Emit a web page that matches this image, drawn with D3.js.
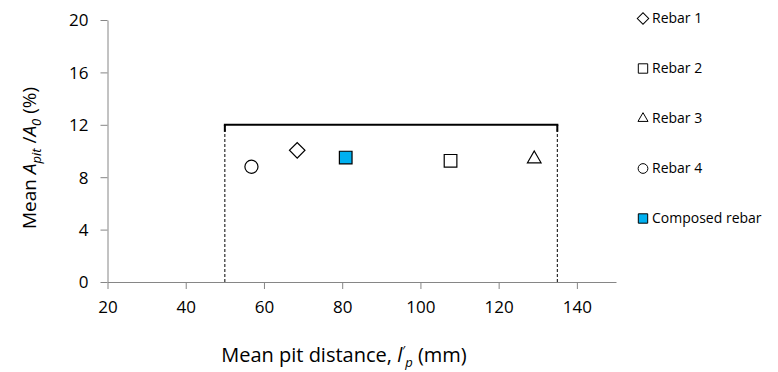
<!DOCTYPE html>
<html>
<head>
<meta charset="utf-8">
<script src="https://cdn.jsdelivr.net/npm/d3@7"></script>
<style>
  body { margin: 0; background: #fff; }
  text { font-family: "Open Sans", "Noto Sans", sans-serif; fill: #000; }
</style>
</head>
<body>
<svg id="chart" width="778" height="372"></svg>
<script>
// data
var seriesNames = ["Rebar 1", "Rebar 2", "Rebar 3", "Rebar 4", "Composed rebar"];
var seriesX = [68.5, 107.7, 129.1, 56.8, 80.9];
var seriesY = [10.05, 9.25, 9.4, 8.8, 9.5];
var xTicks = [20, 40, 60, 80, 100, 120, 140];
var yTicks = [0, 4, 8, 12, 16, 20];
var rangeX = [50, 135];
var rangeTop = 12;

var svg = d3.select("#chart");

var x = d3.scaleLinear().domain([20, 150]).range([107.5, 616]);
var y = d3.scaleLinear().domain([0, 20]).range([282, 20]);

var axisColor = "#868686";

var xAxis = svg.append("g")
  .attr("transform", "translate(0,282)")
  .call(d3.axisBottom(x).tickValues(xTicks).tickSize(7).tickPadding(12).tickSizeOuter(0));
var yAxis = svg.append("g")
  .attr("transform", "translate(107.5,0)")
  .call(d3.axisLeft(y).tickValues(yTicks).tickSize(7).tickPadding(12).tickSizeOuter(0));

[xAxis, yAxis].forEach(function(a) {
  a.selectAll("path, line").attr("stroke", axisColor);
  a.selectAll("text").style("font-size", "17px").attr("fill", "#000");
});
yAxis.selectAll("text").attr("dy", "0.35em");

// range bracket
rangeX.forEach(function(v) {
  svg.append("line")
    .attr("x1", x(v)).attr("x2", x(v))
    .attr("y1", y(0)).attr("y2", y(rangeTop))
    .attr("stroke", "#000").attr("stroke-width", 1)
    .attr("stroke-dasharray", "3,2");
  svg.append("line")
    .attr("x1", x(v)).attr("x2", x(v))
    .attr("y1", y(rangeTop)).attr("y2", y(rangeTop) + 7)
    .attr("stroke", "#000").attr("stroke-width", 2);
});
svg.append("line")
  .attr("x1", x(rangeX[0]) - 1).attr("x2", x(rangeX[1]) + 1)
  .attr("y1", y(rangeTop)).attr("y2", y(rangeTop))
  .attr("stroke", "#000").attr("stroke-width", 2);

// marker shapes (diamond = square turned 45 degrees)
var shapes = [d3.symbolSquare, d3.symbolSquare, d3.symbolTriangle, d3.symbolCircle, d3.symbolSquare];
var rotations = [45, 0, 0, 0, 0];
var sizes = [120, 160, 80, 135, 160];
var fills = ["#fff", "#fff", "#fff", "#fff", "#00b0f0"];
function marker(i, scale) {
  return d3.symbol().type(shapes[i]).size(sizes[i] * scale)();
}

svg.selectAll(".pt")
  .data(seriesNames)
  .enter().append("path")
  .attr("class", "pt")
  .attr("transform", function(d, i) {
    return "translate(" + x(seriesX[i]) + "," + y(seriesY[i]) + ") rotate(" + rotations[i] + ")";
  })
  .attr("d", function(d, i) { return marker(i, 1); })
  .attr("fill", function(d, i) { return fills[i]; })
  .attr("stroke", "#000")
  .attr("stroke-width", 1.2);

// legend
var legend = svg.selectAll(".legend")
  .data(seriesNames)
  .enter().append("g")
  .attr("class", "legend")
  .attr("transform", function(d, i) { return "translate(643," + (18.5 + i * 50) + ")"; });

legend.append("path")
  .attr("transform", function(d, i) { return "rotate(" + rotations[i] + ")"; })
  .attr("d", function(d, i) { return marker(i, 0.55); })
  .attr("fill", function(d, i) { return fills[i]; })
  .attr("stroke", "#000")
  .attr("stroke-width", 1);

legend.append("text")
  .attr("x", 9)
  .attr("dy", "0.35em")
  .style("font-size", "14px")
  .text(function(d) { return d; });

// axis titles
var yt = svg.append("text")
  .attr("transform", "translate(36,158) rotate(-90)")
  .attr("text-anchor", "middle")
  .style("font-size", "19px");
yt.append("tspan").text("Mean ");
yt.append("tspan").style("font-style", "italic").text("A");
yt.append("tspan").style("font-style", "italic").style("font-size", "13px").attr("dy", 5).text("pit");
yt.append("tspan").attr("dy", -5).text(" /");
yt.append("tspan").style("font-style", "italic").text("A");
yt.append("tspan").style("font-style", "italic").style("font-size", "13px").attr("dy", 5).text("0");
yt.append("tspan").attr("dy", -5).text(" (%)");

var xt = svg.append("text")
  .attr("x", 344).attr("y", 362)
  .attr("text-anchor", "middle")
  .style("font-size", "20px");
xt.append("tspan").text("Mean pit distance, ");
xt.append("tspan").style("font-style", "italic").text("l");
xt.append("tspan").style("font-size", "13px").attr("dy", -7).text("\u2032");
xt.append("tspan").style("font-style", "italic").style("font-size", "13px").attr("dy", 12).text("p");
xt.append("tspan").attr("dy", -5).text(" (mm)");
</script>
</body>
</html>
